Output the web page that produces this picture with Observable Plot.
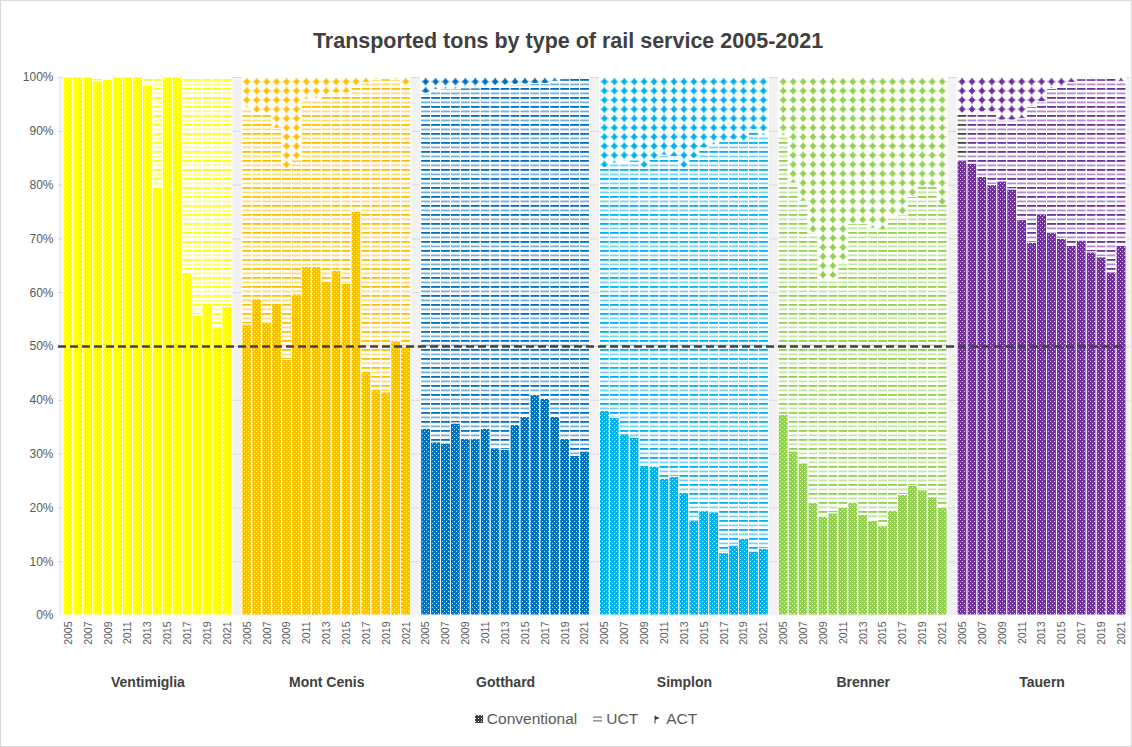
<!DOCTYPE html>
<html>
<head>
<meta charset="utf-8">
<script src="https://cdn.jsdelivr.net/npm/d3@7"></script>
<script src="https://cdn.jsdelivr.net/npm/@observablehq/plot@0.6"></script>
<style>
  body { margin: 0; background: #fff; font-family: "Liberation Sans", Arial, sans-serif; }
  #chart { position: relative; width: 1132px; height: 747px; overflow: hidden; background: #fff; }
  #border { position: absolute; left: 0; top: 0; width: 1132px; height: 747px; box-sizing: border-box; border: 1px solid #d9d9d9; pointer-events: none; }
  #title { position: absolute; top: 29px; left: 2px; width: 100%; text-align: center; font-size: 21.5px; font-weight: bold; color: #404040; }
  #plot { position: absolute; top: 59px; left: 0; }
  #legend { position: absolute; top: 710px; left: 20px; width: 100%; display: flex; justify-content: center; gap: 16px; font-size: 15.5px; color: #595959; }
  #legend span.item { display: inline-flex; align-items: center; gap: 4px; }
  #defs { position: absolute; width: 0; height: 0; }
</style>
</head>
<body>
<div id="chart">
  <div id="title">Transported tons by type of rail service 2005-2021</div>
  <div id="plot"></div>
  <div id="legend"></div>
  <div id="border"></div>
</div>
<svg id="defs" width="0" height="0"><defs id="patdefs"></defs></svg>
<script>
// ---------- data (percent of transported tons) ----------
const groups = ["Ventimiglia", "Mont Cenis", "Gotthard", "Simplon", "Brenner", "Tauern"];
const years = [2005, 2006, 2007, 2008, 2009, 2010, 2011, 2012, 2013, 2014, 2015, 2016, 2017, 2018, 2019, 2020, 2021];
const yearTicks = [2005, 2007, 2009, 2011, 2013, 2015, 2017, 2019, 2021];
const types = ["Conventional", "UCT", "ACT"];
const groupColors = ["#FFFF00", "#FFC000", "#0070C0", "#00B0F0", "#92D050", "#7030A0"];

const ventimigliaConv = [100, 100, 100, 99.3, 99.6, 100, 100, 100, 98.5, 79.5, 100, 100, 63.7, 55.8, 58.0, 53.6, 57.4];
const ventimigliaUct  = [0, 0, 0, 0.7, 0.4, 0, 0, 0, 1.5, 20.5, 0, 0, 36.3, 44.2, 42.0, 46.4, 42.6];
const ventimigliaAct  = [0, 0, 0, 0, 0, 0, 0, 0, 0, 0, 0, 0, 0, 0, 0, 0, 0];

const montCenisConv = [54.1, 58.8, 54.5, 57.9, 47.5, 59.7, 64.8, 64.8, 62.0, 64.1, 61.7, 75.1, 45.3, 42.0, 41.5, 51.0, 49.9];
const montCenisUct  = [40.3, 34.5, 38.8, 32.6, 35.5, 24.9, 31.1, 31.2, 34.5, 32.9, 35.3, 23.4, 53.7, 57.5, 58.2, 48.5, 48.6];
const montCenisAct  = [5.6, 6.7, 6.7, 9.5, 17.0, 15.4, 4.1, 4.0, 3.5, 3.0, 3.0, 1.5, 1.0, 0.5, 0.3, 0.5, 1.5];

const gotthardConv = [34.7, 32.2, 32.0, 35.7, 32.8, 32.8, 34.7, 31.1, 30.8, 35.4, 36.9, 41.0, 40.3, 36.9, 32.8, 29.7, 30.5];
const gotthardUct  = [62.3, 65.5, 65.8, 62.1, 65.2, 65.2, 63.5, 67.3, 67.7, 63.2, 61.8, 57.8, 58.5, 62.3, 66.9, 70.1, 69.3];
const gotthardAct  = [3.0, 2.3, 2.2, 2.2, 2.0, 2.0, 1.8, 1.6, 1.5, 1.4, 1.3, 1.2, 1.2, 0.8, 0.3, 0.2, 0.2];

const simplonConv = [38.0, 36.7, 33.7, 33.0, 27.8, 27.7, 25.4, 25.8, 22.8, 17.7, 19.4, 19.2, 11.6, 13.0, 14.3, 11.9, 12.4];
const simplonUct  = [45.1, 47.3, 50.6, 51.6, 55.3, 57.0, 60.1, 59.4, 60.3, 67.2, 67.4, 68.2, 76.4, 75.3, 73.7, 78.3, 76.8];
const simplonAct  = [16.9, 16.0, 15.7, 15.4, 16.9, 15.3, 14.5, 14.8, 16.9, 15.1, 13.2, 12.6, 12.0, 11.7, 12.0, 9.8, 10.8];

const brennerConv = [37.3, 30.5, 28.3, 20.9, 18.4, 19.0, 20.1, 21.0, 18.7, 17.6, 16.6, 19.5, 22.4, 24.1, 23.3, 22.0, 20.1];
const brennerUct  = [51.8, 49.8, 48.6, 50.1, 43.9, 43.6, 45.3, 51.8, 54.1, 54.3, 55.0, 54.6, 52.0, 53.7, 56.4, 57.7, 56.2];
const brennerAct  = [10.9, 19.7, 23.1, 29.0, 37.7, 37.4, 34.6, 27.2, 27.2, 28.1, 28.4, 25.9, 25.6, 22.2, 20.3, 20.3, 23.7];

const tauernConv = [84.6, 84.0, 81.5, 80.0, 80.7, 79.2, 73.5, 69.3, 74.6, 71.2, 70.0, 68.7, 69.7, 67.5, 66.6, 63.8, 68.7];
const tauernUct  = [8.7, 9.3, 12.0, 13.5, 11.3, 12.8, 18.8, 25.2, 20.8, 26.7, 28.1, 30.3, 30.0, 32.2, 33.1, 36.0, 30.5];
const tauernAct  = [6.7, 6.7, 6.5, 6.5, 8.0, 8.0, 7.7, 5.5, 4.6, 2.1, 1.9, 1.0, 0.3, 0.3, 0.3, 0.2, 0.8];

const seriesByGroup = [
  [ventimigliaConv, ventimigliaUct, ventimigliaAct],
  [montCenisConv, montCenisUct, montCenisAct],
  [gotthardConv, gotthardUct, gotthardAct],
  [simplonConv, simplonUct, simplonAct],
  [brennerConv, brennerUct, brennerAct],
  [tauernConv, tauernUct, tauernAct]
];

// ---------- long table ----------
const key = (g, y) => g + "|" + y;
const rows = [];
groups.forEach((g, gi) => {
  years.forEach((y, yi) => {
    types.forEach((t, ti) => {
      rows.push({group: g, year: y, key: key(g, y), type: t, value: seriesByGroup[gi][ti][yi]});
    });
  });
});

// category domain: 17 years per pass, with one empty slot between passes
const xDomain = [];
groups.forEach((g, gi) => {
  if (gi > 0) xDomain.push("gap" + gi);
  years.forEach(y => xDomain.push(key(g, y)));
});
const xTicks = [];
groups.forEach(g => yearTicks.forEach(y => xTicks.push(key(g, y))));

// ---------- layout constants ----------
const W = 1132, H = 640, mTop = 18, mBottom = 84, mLeft = 63, mRight = 6;
const slot = (W - mLeft - mRight) / xDomain.length;

// ---------- fill patterns ----------
function patternMarkup(id, color) {
  return `
  <pattern id="${id}-Conventional" width="4" height="4" patternUnits="userSpaceOnUse">
    <rect width="4" height="4" fill="${color}"/>
    <rect x="0" y="0" width="1" height="1" fill="#fff" fill-opacity="0.8"/>
    <rect x="2" y="2" width="1" height="1" fill="#fff" fill-opacity="0.8"/>
  </pattern>
  <pattern id="${id}-UCT" width="4" height="9" y="${mTop}" patternUnits="userSpaceOnUse">
    <rect width="4" height="9" fill="#fff"/>
    <rect y="2" width="4" height="1.8" fill="${color}"/>
    <rect y="6.5" width="4" height="1.8" fill="${color}" fill-opacity="0.55"/>
  </pattern>
  <pattern id="${id}-ACT" x="${mLeft}" y="${mTop}" width="${slot}" height="9.2" patternUnits="userSpaceOnUse">
    <rect width="${slot}" height="9.2" fill="#fff"/>
    <line x1="0" x2="${slot}" y1="4.6" y2="4.6" stroke="${color}" stroke-width="1" stroke-opacity="0.6"/>
    <line x1="${slot / 2}" x2="${slot / 2}" y1="0.8" y2="8.4" stroke="${color}" stroke-width="1"/>
    <path d="M${slot / 2},1.3 l3.1,3.3 l-3.1,3.3 l-3.1,-3.3 Z" fill="${color}"/>
    <circle cx="${slot / 2}" cy="4.6" r="2.4" fill="${color}"/>
  </pattern>`;
}
const slug = g => g.replace(/\s+/g, "").toLowerCase();
let defsHtml = "";
groups.forEach((g, i) => { defsHtml += patternMarkup("p-" + slug(g), groupColors[i]); });
defsHtml += patternMarkup("p-dark", "#404040");
defsHtml += `
  <pattern id="leg-Conventional" width="3" height="3" patternUnits="userSpaceOnUse">
    <rect width="3" height="3" fill="#404040"/><rect width="1" height="1" fill="#fff"/>
  </pattern>`;
document.getElementById("patdefs").innerHTML = defsHtml;

const fillFor = d => {
  if (d.group === "Tauern" && d.year === 2005 && d.type === "UCT") return "url(#p-dark-UCT)";
  return `url(#p-${slug(d.group)}-${d.type})`;
};

// ---------- chart ----------
const gridTicks = d3.range(10, 101, 10);
const chart = Plot.plot({
  width: W,
  height: H,
  marginTop: mTop,
  marginBottom: mBottom,
  marginLeft: mLeft,
  marginRight: mRight,
  style: { fontFamily: '"Liberation Sans", Arial, sans-serif', background: "transparent", overflow: "visible" },
  x: { domain: xDomain, padding: 0 },
  y: { domain: [0, 100] },
  color: { type: "identity" },
  marks: [
    Plot.frame({ fill: "#f2f2f2", stroke: null, insetLeft: -5, insetRight: -4 }),
    Plot.ruleY(gridTicks, { stroke: "#d9d9d9", strokeWidth: 1, insetLeft: -5, insetRight: -4 }),
    Plot.barY(rows, {
      x: "key",
      y: "value",
      z: d => d.group + "|" + d.type,
      fill: fillFor,
      stroke: "#fff",
      strokeWidth: 1,
      order: null
    }),
    Plot.ruleY([50], { stroke: "#404040", strokeWidth: 2.6, strokeDasharray: "8,4", insetLeft: -5, insetRight: 2 }),
    Plot.axisY({ ticks: d3.range(0, 101, 10), tickFormat: d => d + "%", tickSize: 0, tickPadding: 10, fontSize: 12, fill: "#595959", label: null }),
    Plot.axisX({ ticks: xTicks, tickFormat: k => k.split("|")[1], tickRotate: -90, tickSize: 0, tickPadding: 6, fontSize: 10.5, fill: "#595959", label: null }),
    Plot.text(groups, { x: g => key(g, 2013), y: () => 0, text: d => d, dy: 67, fontSize: 14, fontWeight: "bold", fill: "#404040", lineAnchor: "middle" })
  ]
});
document.getElementById("plot").appendChild(chart);

// ---------- legend ----------
const legendSwatches = {
  Conventional: `<svg width="8" height="8"><rect width="8" height="8" fill="url(#leg-Conventional)"/></svg>`,
  UCT: `<svg width="9" height="8"><rect y="1.5" width="9" height="1.3" fill="#808080"/><rect y="5.2" width="9" height="1.3" fill="#808080"/></svg>`,
  ACT: `<svg width="8" height="9"><path d="M1,0.5 L1,8.5" stroke="#404040" stroke-width="1"/><path d="M1,1 L6,3 L1,5 Z" fill="#404040"/></svg>`
};
const legend = document.getElementById("legend");
types.forEach(t => {
  const s = document.createElement("span");
  s.className = "item";
  s.innerHTML = legendSwatches[t] + `<span>${t}</span>`;
  legend.appendChild(s);
});
</script>
</body>
</html>
